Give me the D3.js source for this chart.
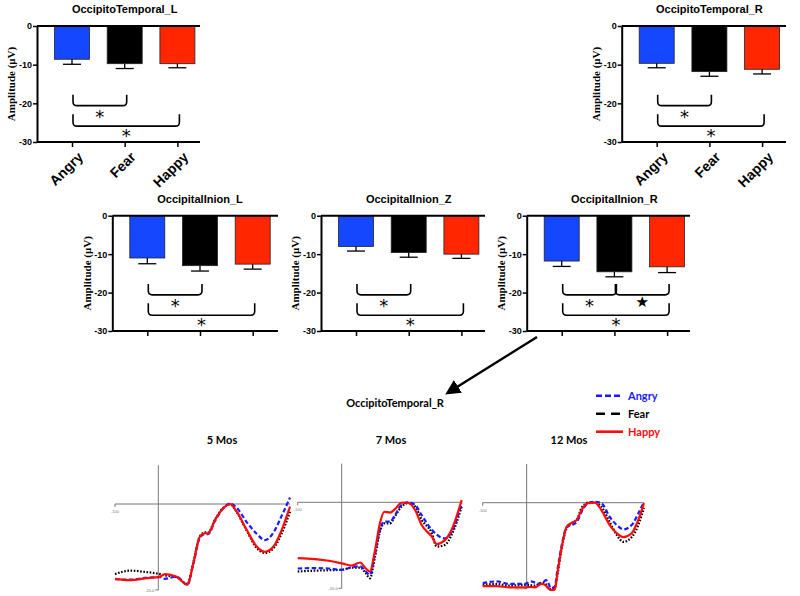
<!DOCTYPE html>
<html><head><meta charset="utf-8">
<script src="https://cdn.jsdelivr.net/npm/d3@7"></script>
<style>body{margin:0;background:#fff}</style>
</head><body>
<svg id="c" width="800" height="596"></svg>
<script>
// ---------- DATA ----------
const categories = ["Angry", "Fear", "Happy"];
const barColors = ["#1447ff", "#000000", "#ff2600"];
const yTicks = [0, -10, -20, -30];

const otL_mean = [-8.6, -9.75, -9.75];
const otL_sem  = [1.3, 1.25, 1.05];
const otR_mean = [-9.65, -11.8, -11.2];
const otR_sem  = [1.15, 1.2, 1.2];
const oiL_mean = [-11.0, -13.0, -12.6];
const oiL_sem  = [1.5, 1.4, 1.3];
const oiZ_mean = [-8.0, -9.6, -10.0];
const oiZ_sem  = [1.2, 1.2, 1.1];
const oiR_mean = [-11.8, -14.6, -13.3];
const oiR_sem  = [1.4, 1.3, 1.5];

const bracketsTwo = [
  {from: "Angry", to: "Fear", level: 1, sym: "*"},
  {from: "Angry", to: "Happy", level: 2, sym: "*"}
];
const bracketsThree = [
  {from: "Angry", to: "Fear", level: 1, sym: "*"},
  {from: "Fear", to: "Happy", level: 1, sym: "\u2605"},
  {from: "Angry", to: "Happy", level: 2, sym: "*"}
];

const emotions = ["Angry", "Fear", "Happy"];
// ERP waveforms (time in ms, amplitude in µV)
const erp5_t     = [-100,-65,-31,4,15,42,67,81,96,108,115,131,150,166,181,204,227,246,266,285,304];
const erp5_angry = [-17.5,-17.6,-17.2,-17.0,-17.4,-16.9,-18.8,-13.9,-7.8,-7.0,-7.0,-3.9,-1.0,0.1,-0.9,-4.2,-6.9,-8.4,-6.6,-2.7,1.5];
const erp5_fear  = [-16.3,-15.5,-15.8,-16.3,-16.6,-17.0,-18.6,-13.5,-7.5,-6.6,-6.6,-3.6,-0.9,-0.1,-1.9,-6.2,-10.2,-11.4,-10.3,-6.8,-1.8];
const erp5_happy = [-17.4,-17.7,-17.3,-16.9,-16.3,-16.9,-18.8,-13.7,-7.6,-6.8,-6.8,-3.7,-1.0,0.0,-1.8,-6.0,-9.9,-11.1,-9.9,-6.0,-0.6];

const erp7_t     = [-100,-61,-30,0,23,42,55,64,76,87,97,110,121,136,151,167,182,205,216,235,250,273];
const erp7_angry = [-15.4,-15.3,-15.4,-15.7,-15.1,-14.9,-16.1,-16.9,-11.9,-6.4,-4.5,-4.5,-3.0,-0.6,0.0,-0.6,-3.0,-6.4,-7.5,-8.4,-6.9,-0.2];
const erp7_fear  = [-16.1,-15.9,-15.8,-15.7,-15.2,-15.2,-16.5,-17.7,-12.6,-6.8,-4.9,-4.9,-3.3,-1.0,-0.2,-1.0,-4.1,-7.2,-10.3,-9.9,-7.6,-1.0];
const erp7_happy = [-13.0,-13.2,-13.6,-14.2,-14.7,-14.0,-15.4,-16.1,-11.1,-4.9,-2.2,-2.4,-1.6,-0.1,-0.1,-1.8,-5.3,-8.0,-9.7,-8.8,-6.4,0.5];

const erp12_t     = [-100,-68,-38,-4,10,19,34,44,49,55,64,70,80,91,102,114,125,140,155,170,189,205,220,239,254,267];
const erp12_angry = [-18.7,-18.3,-18.9,-18.9,-18.3,-18.6,-18.9,-18.0,-18.6,-19.9,-19.5,-15.6,-9.8,-5.7,-5.2,-4.5,-2.1,-0.1,0.2,-0.1,-3.3,-5.2,-6.2,-5.2,-2.5,0.2];
const erp12_fear  = [-19.1,-18.9,-19.3,-19.1,-19.2,-19.3,-18.6,-19.0,-19.8,-20.1,-19.8,-16.8,-10.5,-5.9,-4.8,-4.0,-1.2,0.0,0.0,-0.9,-4.5,-7.5,-9.1,-8.0,-5.2,-1.2];
const erp12_happy = [-19.4,-19.4,-19.7,-19.7,-19.6,-19.7,-18.9,-19.3,-19.9,-20.3,-20.2,-16.4,-10.2,-5.6,-4.7,-4.0,-1.7,-0.1,0.0,-1.7,-5.2,-7.1,-8.0,-7.1,-4.0,-0.1];

const ageLabels = ["5 Mos", "7 Mos", "12 Mos"];
const erpTimeEnd = [304, 273, 267];

// ---------- LAYOUT ----------
const svg = d3.select("#c");
const barPanels = [
  {title: "OccipitoTemporal_L", mean: otL_mean, sem: otL_sem, br: bracketsTwo, ax: 37, top: 26, bottom: 142, right: 200, xlab: true},
  {title: "OccipitoTemporal_R", mean: otR_mean, sem: otR_sem, br: bracketsTwo, ax: 621.7, top: 26, bottom: 142, right: 786, xlab: true},
  {title: "OccipitalInion_L", mean: oiL_mean, sem: oiL_sem, br: bracketsTwo, ax: 112.3, top: 215.7, bottom: 331, right: 278, xlab: false},
  {title: "OccipitalInion_Z", mean: oiZ_mean, sem: oiZ_sem, br: bracketsTwo, ax: 321, top: 215.7, bottom: 331, right: 485, xlab: false},
  {title: "OccipitalInion_R", mean: oiR_mean, sem: oiR_sem, br: bracketsThree, ax: 526.7, top: 215.7, bottom: 331, right: 690, xlab: false}
];

barPanels.forEach(p => {
  const g = svg.append("g");
  const x = d3.scalePoint().domain(categories).range([p.ax + 35, p.ax + 140.4]);
  const y = d3.scaleLinear().domain([0, -30]).range([p.top, p.bottom]);
  const bw = 35;

  g.append("text").attr("x", x("Fear")).attr("y", p.top - 13)
    .attr("text-anchor", "middle").attr("font-family", "Liberation Sans, Arial, sans-serif")
    .attr("font-weight", "bold").attr("font-size", 11).text(p.title);

  g.selectAll("rect.bar").data(categories).join("rect")
    .attr("x", d => x(d) - bw / 2).attr("width", bw)
    .attr("y", y(0)).attr("height", (d, i) => y(p.mean[i]) - y(0))
    .attr("fill", (d, i) => barColors[i]).attr("stroke", "#222").attr("stroke-width", 0.8);

  categories.forEach((c, i) => {
    const y1 = y(p.mean[i]), y2 = y(p.mean[i] - p.sem[i]);
    g.append("line").attr("x1", x(c)).attr("x2", x(c)).attr("y1", y1).attr("y2", y2)
      .attr("stroke", "#000").attr("stroke-width", 1.3);
    g.append("line").attr("x1", x(c) - 9).attr("x2", x(c) + 9).attr("y1", y2).attr("y2", y2)
      .attr("stroke", "#000").attr("stroke-width", 1.3);
  });

  [0, -30].forEach(v => {
    g.append("line").attr("x1", p.ax).attr("x2", p.right).attr("y1", y(v)).attr("y2", y(v))
      .attr("stroke", "#000").attr("stroke-width", 2);
  });

  const ya = g.append("g").attr("transform", `translate(${p.ax},0)`)
    .call(d3.axisLeft(y).tickValues(yTicks).tickSize(4).tickSizeOuter(0).tickFormat(d => String(d)));
  ya.select(".domain").attr("stroke-width", 2);
  ya.selectAll(".tick line").attr("stroke-width", 1.5);
  ya.selectAll(".tick text").attr("font-family", "Liberation Sans, Arial, sans-serif")
    .attr("font-weight", "bold").attr("font-size", 9).attr("x", -5);

  const xa = g.append("g").attr("transform", `translate(0,${y(-30)})`)
    .call(d3.axisBottom(x).tickSize(5).tickFormat(""));
  xa.select(".domain").remove();
  xa.selectAll(".tick line").attr("stroke-width", 1.5);

  if (p.xlab) {
    categories.forEach(c => {
      g.append("text").attr("transform", `translate(${x(c) + 5},${p.bottom + 9}) rotate(-45)`)
        .attr("text-anchor", "end").attr("dy", "0.7em")
        .attr("font-family", "Liberation Sans, Arial, sans-serif").attr("font-weight", "bold")
        .attr("font-size", 14).text(c);
    });
  }

  g.append("text").attr("transform", `translate(${p.ax - 25.5},${(y(0) + y(-30)) / 2}) rotate(-90)`)
    .attr("text-anchor", "middle").attr("dy", "0.35em")
    .attr("font-family", "Liberation Serif, Times New Roman, serif").attr("font-weight", "bold")
    .attr("font-size", 11).text("Amplitude (\u03BCV)");

  const lv = {1: {top: -17.8, bot: -20.6, sym: -22.3}, 2: {top: -22.8, bot: -25.9, sym: -27.2}};
  p.br.forEach(b => {
    const x1 = x(b.from) + 1, x2 = x(b.to) + 2;
    const yt = y(lv[b.level].top), yb = y(lv[b.level].bot), r = 4;
    const path = d3.path();
    path.moveTo(x1, yt); path.lineTo(x1, yb - r);
    path.quadraticCurveTo(x1, yb, x1 + r, yb);
    path.lineTo(x2 - r, yb);
    path.quadraticCurveTo(x2, yb, x2, yb - r);
    path.lineTo(x2, yt);
    g.append("path").attr("d", path.toString()).attr("fill", "none")
      .attr("stroke", "#000").attr("stroke-width", 1.6);
    const cx = (x1 + x2) / 2, cy = y(lv[b.level].sym);
    if (b.sym === "*") {
      g.append("text").attr("x", cx).attr("y", cy + 10.5).attr("text-anchor", "middle")
        .attr("font-family", "DejaVu Sans, sans-serif").attr("font-size", 18).text(b.sym);
    } else {
      g.append("text").attr("x", cx).attr("y", cy + 5.5).attr("text-anchor", "middle")
        .attr("font-family", "DejaVu Sans, sans-serif").attr("font-size", 15).text(b.sym);
    }
  });
});

// ---------- arrow + legend ----------
const defs = svg.append("defs");
defs.append("marker").attr("id", "ah").attr("viewBox", "0 0 10 10").attr("refX", 7).attr("refY", 5)
  .attr("markerWidth", 6).attr("markerHeight", 6).attr("orient", "auto")
  .append("path").attr("d", "M0,0 L10,5 L0,10 Z").attr("fill", "#000");
svg.append("line").attr("x1", 537).attr("y1", 337).attr("x2", 449).attr("y2", 392)
  .attr("stroke", "#000").attr("stroke-width", 2.5).attr("marker-end", "url(#ah)");

const midFont = "Lato, Open Sans, sans-serif";
svg.append("text").attr("x", 395).attr("y", 407).attr("text-anchor", "middle")
  .attr("font-family", midFont).attr("font-weight", "bold").attr("font-size", 11).text("OccipitoTemporal_R");

const seriesColor = {Angry: "#1a1aff", Fear: "#000000", Happy: "#ff0a0a"};
const seriesDash = {Angry: "4.5,2.5", Fear: "1.6,1.6", Happy: null};
const legendDash = {Angry: "6,3", Fear: "9,6", Happy: null};
const legendY = d3.scalePoint().domain(emotions).range([395.7, 431.7]);
emotions.forEach(e => {
  svg.append("line").attr("x1", 596).attr("x2", 623).attr("y1", legendY(e)).attr("y2", legendY(e))
    .attr("stroke", seriesColor[e]).attr("stroke-width", 2.6)
    .attr("stroke-dasharray", legendDash[e]);
  svg.append("text").attr("x", 628).attr("y", legendY(e)).attr("dy", "0.35em")
    .attr("font-family", midFont).attr("font-weight", "bold").attr("font-size", 11)
    .attr("fill", seriesColor[e]).text(e);
});

// ---------- ERP panels ----------
const erpData = [
  {t: erp5_t, Angry: erp5_angry, Fear: erp5_fear, Happy: erp5_happy},
  {t: erp7_t, Angry: erp7_angry, Fear: erp7_fear, Happy: erp7_happy},
  {t: erp12_t, Angry: erp12_angry, Fear: erp12_fear, Happy: erp12_happy}
];
const erpLayout = [
  {left: 115, right: 290, y0: 504, title: 222},
  {left: 297.7, right: 461.7, y0: 502.3, title: 391},
  {left: 482.7, right: 644, y0: 502.7, title: 569}
];

erpData.forEach((d, k) => {
  const L = erpLayout[k];
  const g = svg.append("g");
  const x = d3.scaleLinear().domain([-100, erpTimeEnd[k]]).range([L.left, L.right]);
  const y = d3.scaleLinear().domain([0, -20]).range([L.y0, L.y0 + 86]);

  g.append("text").attr("x", L.title).attr("y", 444).attr("text-anchor", "middle")
    .attr("font-family", midFont).attr("font-weight", "bold").attr("font-size", 11).text(ageLabels[k]);

  g.append("line").attr("x1", x(-100)).attr("x2", x(erpTimeEnd[k])).attr("y1", y(0)).attr("y2", y(0))
    .attr("stroke", "#777").attr("stroke-width", 1);
  g.append("line").attr("x1", x(-100)).attr("x2", x(-100)).attr("y1", y(0)).attr("y2", y(0) + 3)
    .attr("stroke", "#777").attr("stroke-width", 1);
  g.append("line").attr("x1", x(0)).attr("x2", x(0)).attr("y1", y(9)).attr("y2", y(-20))
    .attr("stroke", "#777").attr("stroke-width", 1);
  g.append("line").attr("x1", x(0) - 3).attr("x2", x(0)).attr("y1", y(-20)).attr("y2", y(-20))
    .attr("stroke", "#777").attr("stroke-width", 1);
  g.append("text").attr("x", x(-100)).attr("y", y(0) + 9).attr("text-anchor", "middle")
    .attr("font-family", "Liberation Sans, Arial, sans-serif").attr("font-size", 4).attr("fill", "#777").text("-100");
  g.append("text").attr("x", x(0) - 4).attr("y", y(-20) + 1.5).attr("text-anchor", "end")
    .attr("font-family", "Liberation Sans, Arial, sans-serif").attr("font-size", 4).attr("fill", "#777").text("-20.0");

  const line = d3.line().x(v => x(v[0])).y(v => y(v[1])).curve(d3.curveMonotoneX);
  ["Fear", "Angry", "Happy"].forEach(e => {
    g.append("path").attr("d", line(d.t.map((t, i) => [t, d[e][i]])))
      .attr("fill", "none").attr("stroke", seriesColor[e]).attr("stroke-width", 2.2)
      .attr("stroke-dasharray", seriesDash[e]);
  });
});
</script>
</body></html>
